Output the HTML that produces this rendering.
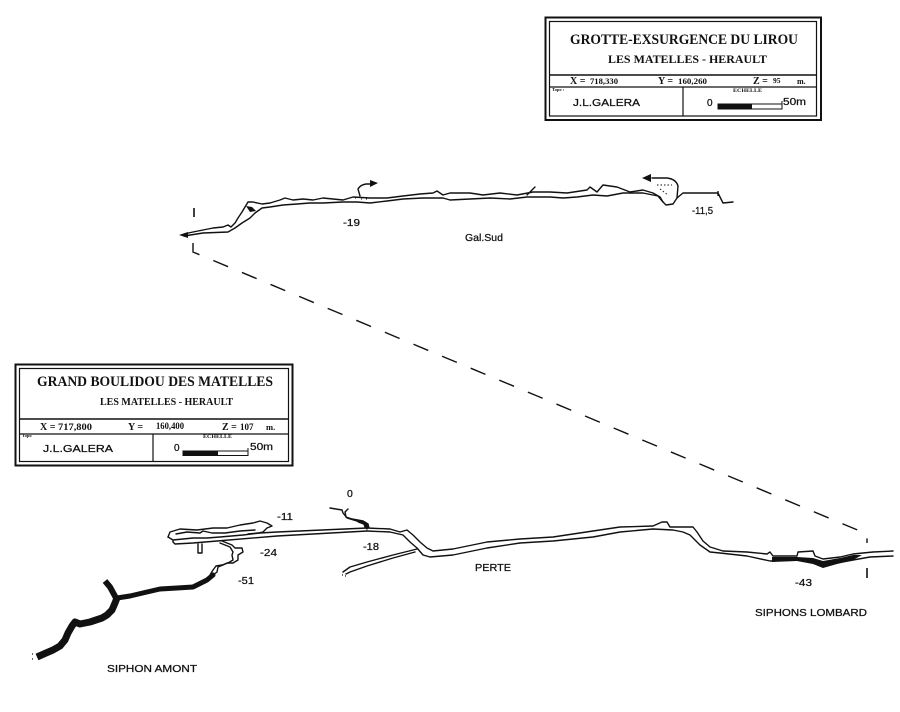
<!DOCTYPE html>
<html>
<head>
<meta charset="utf-8">
<style>
html,body{margin:0;padding:0;background:#fff;}
svg{display:block;}
.c{fill:none;stroke:#111;stroke-width:1.4;stroke-linejoin:round;stroke-linecap:round;}
.ser{font-family:"Liberation Serif",serif;font-weight:bold;fill:#111;}
.sans{font-family:"Liberation Sans",sans-serif;fill:#111;stroke:#111;stroke-width:0.25;}
</style>
</head>
<body>
<svg width="900" height="712" viewBox="0 0 900 712" xmlns="http://www.w3.org/2000/svg">
<rect width="900" height="712" fill="#fff"/>

<!-- ============ TITLE BOX 1 ============ -->
<rect x="545.5" y="17.5" width="275.5" height="102.5" fill="none" stroke="#111" stroke-width="2"/>
<rect x="549.5" y="21.5" width="267" height="94.5" fill="none" stroke="#111" stroke-width="1.2"/>
<line x1="549.5" y1="75" x2="816.5" y2="75" stroke="#111" stroke-width="1.6"/>
<line x1="549.5" y1="87" x2="816.5" y2="87" stroke="#111" stroke-width="1.2"/>
<line x1="683" y1="87" x2="683" y2="116" stroke="#111" stroke-width="1.2"/>
<text class="ser" x="570" y="44" font-size="14.5" textLength="228" lengthAdjust="spacingAndGlyphs">GROTTE-EXSURGENCE DU LIROU</text>
<text class="ser" x="608" y="63" font-size="12" textLength="159" lengthAdjust="spacingAndGlyphs">LES MATELLES - HERAULT</text>
<text class="ser" x="570" y="84" font-size="10">X =</text>
<text class="ser" x="590" y="84" font-size="8" textLength="28" lengthAdjust="spacingAndGlyphs">718,330</text>
<text class="ser" x="658" y="84" font-size="10">Y =</text>
<text class="ser" x="678" y="84" font-size="8" textLength="29" lengthAdjust="spacingAndGlyphs">160,260</text>
<text class="ser" x="753" y="84" font-size="10">Z =</text>
<text class="ser" x="773" y="83" font-size="7.5">95</text>
<text class="ser" x="797" y="84" font-size="8">m.</text>
<text class="ser" x="552" y="91" font-size="4.5">Topo :</text>
<text class="sans" x="573" y="106" font-size="10" textLength="67" lengthAdjust="spacingAndGlyphs">J.L.GALERA</text>
<text class="ser" x="733" y="92" font-size="5" textLength="29" lengthAdjust="spacingAndGlyphs">ECHELLE</text>
<text class="sans" x="707" y="106" font-size="10">0</text>
<rect x="718" y="104" width="64" height="5" fill="#fff" stroke="#111" stroke-width="1"/>
<rect x="718" y="104" width="34" height="5" fill="#111"/>
<line x1="782" y1="101" x2="782" y2="109" stroke="#111" stroke-width="1"/>
<text class="sans" x="783" y="105" font-size="10" textLength="23" lengthAdjust="spacingAndGlyphs">50m</text>

<!-- ============ TITLE BOX 2 ============ -->
<rect x="15.5" y="364.5" width="277" height="101" fill="none" stroke="#111" stroke-width="2"/>
<rect x="19.5" y="368.5" width="269" height="93" fill="none" stroke="#111" stroke-width="1.2"/>
<line x1="19.5" y1="419" x2="288.5" y2="419" stroke="#111" stroke-width="1.6"/>
<line x1="19.5" y1="434" x2="288.5" y2="434" stroke="#111" stroke-width="1.2"/>
<line x1="153" y1="434" x2="153" y2="461.5" stroke="#111" stroke-width="1.2"/>
<text class="ser" x="37" y="386" font-size="15" textLength="236" lengthAdjust="spacingAndGlyphs">GRAND BOULIDOU DES MATELLES</text>
<text class="ser" x="100" y="405" font-size="10.5" textLength="133" lengthAdjust="spacingAndGlyphs">LES MATELLES - HERAULT</text>
<text class="ser" x="40" y="430" font-size="10">X =</text>
<text class="ser" x="58" y="430" font-size="9" textLength="34" lengthAdjust="spacingAndGlyphs">717,800</text>
<text class="ser" x="128" y="430" font-size="10">Y =</text>
<text class="ser" x="156" y="429" font-size="9" textLength="28" lengthAdjust="spacingAndGlyphs">160,400</text>
<text class="ser" x="222" y="430" font-size="10">Z =</text>
<text class="ser" x="240" y="430" font-size="9">107</text>
<text class="ser" x="266" y="430" font-size="8.5">m.</text>
<text class="ser" x="22" y="437" font-size="4.5">Topo</text>
<text class="sans" x="43" y="452" font-size="10" textLength="70" lengthAdjust="spacingAndGlyphs">J.L.GALERA</text>
<text class="ser" x="203" y="438" font-size="5" textLength="29" lengthAdjust="spacingAndGlyphs">ECHELLE</text>
<text class="sans" x="174" y="451" font-size="10">0</text>
<rect x="183" y="451" width="65" height="4.5" fill="#fff" stroke="#111" stroke-width="1"/>
<rect x="183" y="451" width="35" height="4.5" fill="#111"/>
<line x1="248" y1="448" x2="248" y2="455.5" stroke="#111" stroke-width="1"/>
<text class="sans" x="250" y="450" font-size="10" textLength="23" lengthAdjust="spacingAndGlyphs">50m</text>

<!-- ============ DASHED CONNECTION ============ -->
<polyline points="193,243 193,252 867,534 867,543" fill="none" stroke="#111" stroke-width="1.4" stroke-dasharray="16 15"/>
<line x1="194" y1="208" x2="194" y2="217" stroke="#111" stroke-width="1.6"/>
<line x1="867" y1="568" x2="867" y2="578" stroke="#111" stroke-width="1.6"/>

<!-- ============ UPPER CAVE (LIROU) ============ -->
<polyline class="c" points="184,234 193,232 203,230 213,228 223,227 228,225 231,227 235,223 238,218 242,212 245,207 248,202 253,202 262,204 270,203 280,200 285,198 293,200 303,199 313,200 323,198 343,200 353,197 370,198 387,198 403,196 420,194 433,193 437,191 443,195 450,193 470,193 483,195 500,193 517,195 533,192 550,192 567,193 587,190 590,187 597,192 603,185 617,187 630,192 643,190 653,193 660,197 663,202"/>
<polyline class="c" points="184,236 203,233 228,232 235,228 242,223 250,218 255,213 262,208 270,207 283,205 297,204 310,203 323,203 343,202 357,202 370,203 387,201 403,199 423,198 443,198 450,200 470,199 490,198 510,199 527,197 550,197 563,198 577,197 593,195 607,196 623,193 643,193 658,196 663,202 666,205 673,204 677,198 683,193 703,193 718,193 720,197 723,203 733,202"/>
<line x1="718" y1="191" x2="718" y2="196" stroke="#111" stroke-width="1.4"/>
<polygon points="179,235 188,232 188,238" fill="#111"/>
<path d="M246,206 L252,207 L256,211 L250,212 Z" fill="#111"/>
<path class="c" d="M527,195 L535,187"/>
<!-- arrow near -19 -->
<path class="c" d="M360,196 L358,189 Q360,185 366,184 L371,184"/>
<polygon points="378,183 370,180 370,187" fill="#111"/>
<path d="M355,198 h2 M361,199 h2 M366,199 h2" stroke="#111" stroke-width="1" stroke-dasharray="1 2"/>
<!-- arrow near -11,5 -->
<path class="c" d="M677,198 L678,186 Q676,179 667,178 L652,178"/>
<polygon points="642,178 651,174 651,182" fill="#111"/>
<path d="M657,185 L672,185 M660,189 L668,195" stroke="#111" stroke-width="0.9" stroke-dasharray="1.5 2" fill="none"/>

<text class="sans" x="343" y="226" font-size="10.5" textLength="17" lengthAdjust="spacingAndGlyphs">-19</text>
<text class="sans" x="465" y="241" font-size="10.5" textLength="38" lengthAdjust="spacingAndGlyphs">Gal.Sud</text>
<text class="sans" x="692" y="214" font-size="10.5" textLength="21" lengthAdjust="spacingAndGlyphs">-11,5</text>

<!-- ============ LOWER CAVE (GRAND BOULIDOU) ============ -->
<!-- left loop complex -->
<polyline class="c" points="168,537 170,532 180,529 197,530 213,528 227,528 240,525 253,523 260,521 267,523 272,526 267,528 263,532 258,533 248,534"/>
<polyline class="c" points="176,534 187,532 200,533 203,531 212,533 225,533 240,531 255,530"/>
<polyline class="c" points="168,537 173,540 193,538 207,538 220,537 243,535 260,533 277,532 367,528"/>
<polyline class="c" points="173,542 175,544 193,543 217,541 277,536 367,531"/>
<line x1="173" y1="540" x2="173" y2="542" stroke="#111" stroke-width="1.4"/>
<polyline class="c" points="198,544 198,553 202,553 202,544"/>
<!-- down branch white outline -->
<polyline class="c" points="222,541 227,543 232,545 235,548 242,548 243,552 238,555 238,560 233,563 227,563 223,565 218,567 217,572 213,575"/>
<polyline class="c" points="220,543 230,547 233,552 232,555 233,560 228,563 222,565 216,566 213,570 210,575"/>
<!-- black siphon amont -->
<polyline fill="none" stroke="#111" stroke-width="5" stroke-linejoin="round" stroke-linecap="round" points="213,575 207,580 193,587 177,588 160,589 147,592 130,596 117,598"/>
<polyline fill="none" stroke="#111" stroke-width="7" stroke-linejoin="round" stroke-linecap="butt" points="117,598 115,603 112,610 107,615 102,618 90,622 80,624 75,622 72,626 68,633 65,640 60,646 53,650 46,653 37,657"/>
<polyline fill="none" stroke="#111" stroke-width="6" stroke-linejoin="round" points="116,598 110,587 105,581"/>
<path d="M32,654 h1 M32,659 h1" stroke="#111" stroke-width="1.2"/>

<!-- entrance shaft (0) -->
<polyline class="c" points="330,508 342,510 343,513 347,518 360,522 364,524 365,527 367,529"/>
<polyline class="c" points="348,509 345,512 346,517 352,519 363,521 368,524 369,528"/>
<path d="M358,521 L366,524 L367,528" stroke="#111" stroke-width="3" fill="none"/>

<!-- main gallery -->
<polyline class="c" points="367,528 390,529 400,532 407,530 413,535 420,542 427,548 433,551 453,549 487,542 520,539 553,537 593,531 620,527 653,526 662,522 667,522 670,527 683,527 693,527 697,532 703,541 710,547 723,551 747,552 767,554 770,552 773,556 797,556 798,552 813,551 815,556 823,559 840,557 853,554 873,552 893,551"/>
<polyline class="c" points="367,531 390,532 403,535 410,542 417,548 423,555 430,557 453,555 487,548 520,543 553,541 593,537 620,532 653,529 673,530 683,532 690,535 700,545 710,552 720,553 747,556 770,561 797,560 813,563 823,567 837,563 853,560 870,557 893,556"/>
<polygon points="772,557 797,557 813,558 823,561 840,558 853,555 862,555 853,560 837,564 823,568 813,564 797,561 772,562" fill="#111"/>
<!-- branch to PERTE -->
<polyline class="c" points="417,549 393,555 367,562 350,567 343,572"/>
<polyline class="c" points="415,552 393,558 367,566 350,572 346,574"/>
<path d="M342,575 h1 M345,576 h1" stroke="#111" stroke-width="1.2"/>

<!-- labels -->
<text class="sans" x="347" y="497" font-size="10.5">0</text>
<text class="sans" x="277" y="520" font-size="10.5" textLength="16" lengthAdjust="spacingAndGlyphs">-11</text>
<text class="sans" x="260" y="556" font-size="10.5" textLength="17" lengthAdjust="spacingAndGlyphs">-24</text>
<text class="sans" x="363" y="550" font-size="10.5" textLength="16" lengthAdjust="spacingAndGlyphs">-18</text>
<text class="sans" x="238" y="584" font-size="10.5" textLength="16" lengthAdjust="spacingAndGlyphs">-51</text>
<text class="sans" x="475" y="571" font-size="10" textLength="36" lengthAdjust="spacingAndGlyphs">PERTE</text>
<text class="sans" x="795" y="586" font-size="10.5" textLength="17" lengthAdjust="spacingAndGlyphs">-43</text>
<text class="sans" x="755" y="616" font-size="10" textLength="112" lengthAdjust="spacingAndGlyphs">SIPHONS LOMBARD</text>
<text class="sans" x="107" y="672" font-size="10" textLength="90" lengthAdjust="spacingAndGlyphs">SIPHON AMONT</text>
</svg>
</body>
</html>
